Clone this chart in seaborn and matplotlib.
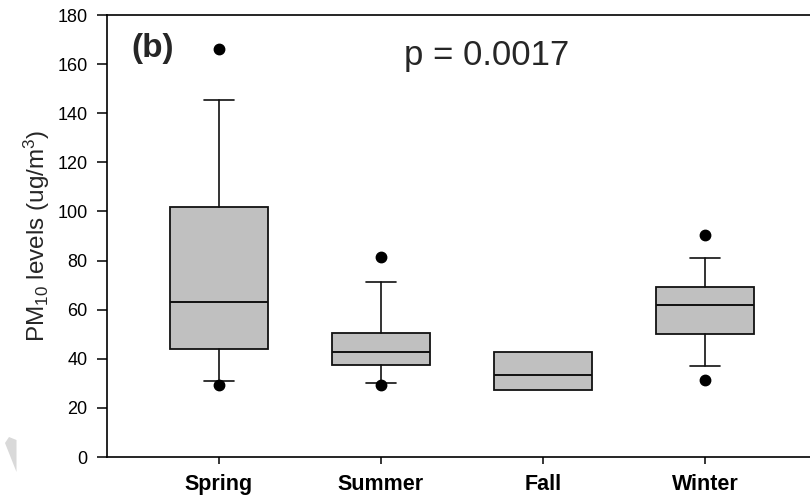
import matplotlib
matplotlib.use("Agg")
import matplotlib.pyplot as plt
from matplotlib.patches import Polygon
import seaborn as sns

# ---- data ----
seasons = ["Spring", "Summer", "Fall", "Winter"]
q1 = [44.0, 37.5, 27.3, 50.1]
median = [63.0, 42.6, 33.5, 62.0]
q3 = [102.0, 50.7, 42.8, 69.1]
whisker_low = [31.0, 30.3, 27.3, 37.0]
whisker_high = [145.5, 71.1, 42.8, 81.0]
outliers = [[166.3, 29.3], [81.3, 29.3], [], [90.3, 31.4]]
p_text = "p = 0.0017"
panel_label = "(b)"
y_ticks = [0, 20, 40, 60, 80, 100, 120, 140, 160, 180]

sns.set_style("ticks")
plt.rcParams["font.family"] = ["Liberation Sans", "DejaVu Sans"]
plt.rcParams["mathtext.fontset"] = "custom"
plt.rcParams["mathtext.rm"] = "Liberation Sans"
plt.rcParams["mathtext.it"] = "Liberation Sans:italic"

W, H = 810, 497
AX_L, AX_R = 107, 826   # axes extends a little past the right page edge
fig = plt.figure(figsize=(W / 100, H / 100), dpi=100)
ax = fig.add_axes([AX_L / W, 1 - 457 / H, (AX_R - AX_L) / W, (457 - 15) / H])

stats = []
for i, s in enumerate(seasons):
    stats.append(dict(label=s, q1=q1[i], med=median[i], q3=q3[i],
                      whislo=whisker_low[i], whishi=whisker_high[i],
                      fliers=outliers[i]))

cap_w = [0.185 if whisker_low[i] < q1[i] or whisker_high[i] > q3[i] else 0.0
         for i in range(len(seasons))]

ax.bxp(stats, positions=range(len(seasons)), widths=0.6, patch_artist=True,
       showfliers=True, capwidths=cap_w,
       boxprops=dict(facecolor="#c0c0c0", edgecolor="#111111", linewidth=1.3),
       medianprops=dict(color="#111111", linewidth=1.4),
       whiskerprops=dict(color="#111111", linewidth=1.2),
       capprops=dict(color="#111111", linewidth=1.2),
       flierprops=dict(marker="o", markerfacecolor="black", markeredgecolor="black",
                       markersize=7.5, linestyle="none"))

step = 162.0
ax.set_xlim(-(219 - AX_L) / step, (AX_R - 219) / step)
ax.set_ylim(0, 180)
ax.set_yticks(y_ticks)
ax.set_xticks(range(len(seasons)))
ax.set_xticklabels(seasons, fontsize=15.5, fontweight="bold")
ax.tick_params(axis="y", direction="out", length=7, width=1.1, labelsize=13,
               colors="black", pad=7)
ax.tick_params(axis="x", direction="out", length=5, width=1.1, pad=7,
               colors="black")
ax.set_ylabel(r"PM$_{10}$ levels (ug/m$^{3}$)", fontsize=17.5, labelpad=4)

for side in ["left", "bottom", "top"]:
    ax.spines[side].set_visible(True)
    ax.spines[side].set_linewidth(1.2)
    ax.spines[side].set_color("black")
ax.spines["right"].set_visible(False)

fig.text(153 / W, 1 - 48 / H, panel_label, fontsize=24, fontweight="bold",
         ha="center", va="center")
fig.text(487 / W, 1 - 55 / H, p_text, fontsize=25, ha="center", va="center")

# faint grey watermark sliver at the lower left of the page
wm = Polygon([(5 / W, 1 - 443 / H), (9 / W, 1 - 437 / H), (16.5 / W, 1 - 440 / H),
              (16.5 / W, 1 - 472 / H)], closed=True, transform=fig.transFigure,
             facecolor="#d9d9d9", edgecolor="none")
fig.patches.append(wm)

fig.savefig("out.png", dpi=100)
